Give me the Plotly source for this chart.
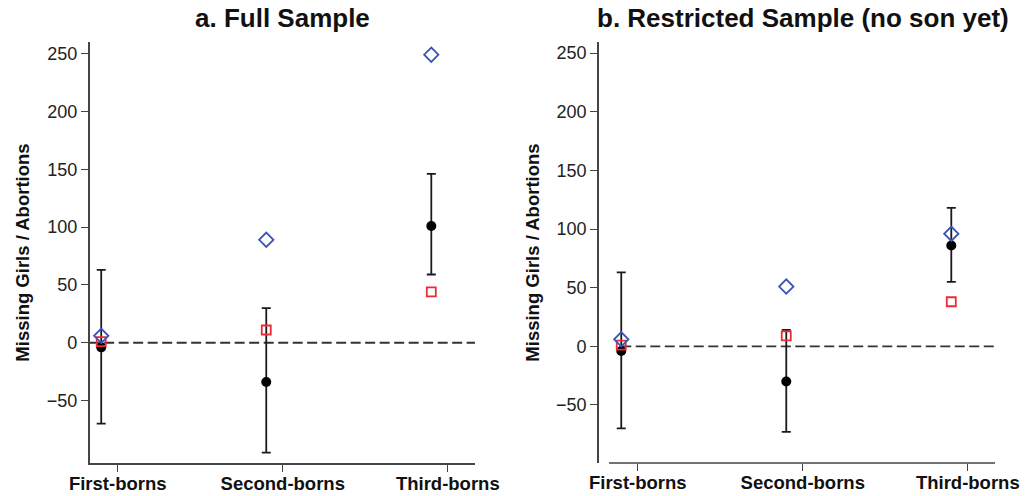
import plotly.graph_objects as go

categories = ["First-borns", "Second-borns", "Third-borns"]
cat_pos = [1, 2, 3]
point_offset = -0.1

# Panel a: Full Sample
a_est = [-4, -34, 101]
a_hi = [63, 30, 146]
a_lo = [-70, -95, 59]
a_diamond = [6, 89, 249]
a_square = [1, 11, 44]

# Panel b: Restricted Sample (no son yet)
b_est = [-4, -30, 86]
b_hi = [63, 14, 118]
b_lo = [-70, -73, 55]
b_diamond = [6, 51, 96]
b_square = [1, 9, 38]

yticks = [-50, 0, 50, 100, 150, 200, 250]

BLUE = "#3a55b4"
RED = "#ee2a36"
DARK = "#1a1a1a"
AX = "#444444"

fig = go.Figure()

panels = [
    dict(est=a_est, hi=a_hi, lo=a_lo, dia=a_diamond, sq=a_square, xa="x", ya="y"),
    dict(est=b_est, hi=b_hi, lo=b_lo, dia=b_diamond, sq=b_square, xa="x2", ya="y2"),
]

for p in panels:
    xs = [c + point_offset for c in cat_pos]
    fig.add_trace(go.Scatter(
        x=xs, y=p["est"], mode="markers", xaxis=p["xa"], yaxis=p["ya"],
        marker=dict(symbol="circle", size=10, color="black"),
        error_y=dict(type="data", symmetric=False,
                     array=[h - e for h, e in zip(p["hi"], p["est"])],
                     arrayminus=[e - l for e, l in zip(p["est"], p["lo"])],
                     color=DARK, thickness=1.8, width=4.5),
        showlegend=False))
    fig.add_trace(go.Scatter(
        x=xs, y=p["sq"], mode="markers", xaxis=p["xa"], yaxis=p["ya"],
        marker=dict(symbol="square-open", size=9, color=RED, line=dict(width=1.8)),
        showlegend=False))
    fig.add_trace(go.Scatter(
        x=xs, y=p["dia"], mode="markers", xaxis=p["xa"], yaxis=p["ya"],
        marker=dict(symbol="diamond-open", size=11, color=BLUE, line=dict(width=1.8)),
        showlegend=False))

font_fam = "Liberation Sans, Arial, sans-serif"

common_y = dict(
    tickvals=yticks, ticktext=[str(v).replace("-", "\u2212") for v in yticks],
    ticks="outside", ticklen=7, tickwidth=1.3, tickcolor=AX,
    showline=True, linecolor=AX, linewidth=1.5, showgrid=False, zeroline=False,
    automargin=False,
    tickfont=dict(family=font_fam, size=18, color="#222"),
    title=dict(text="<b>Missing Girls / Abortions</b>",
               font=dict(family=font_fam, size=18.5, color="#111"), standoff=12),
)
common_x = dict(
    tickvals=cat_pos, ticktext=["<b>%s</b>" % c for c in categories],
    ticks="outside", ticklen=7, tickwidth=1.3, tickcolor=AX,
    showgrid=False, zeroline=False, automargin=False,
    ticklabelstandoff=-4,
    tickfont=dict(family=font_fam, size=18.5, color="#111"),
)

fig.update_layout(
    width=1026, height=496,
    margin=dict(l=0, r=0, t=0, b=0, autoexpand=False),
    paper_bgcolor="white", plot_bgcolor="white",
    xaxis=dict(domain=[0.0874, 0.463], range=[0.83, 3.165], showline=True,
               linecolor=AX, linewidth=1.5, anchor="y", **common_x),
    yaxis=dict(domain=[0.0665, 0.9153], range=[-104, 260], anchor="x", **common_y),
    xaxis2=dict(domain=[0.5838, 0.9698], range=[0.765, 3.165], showline=False,
                anchor="y2", **common_x),
    yaxis2=dict(domain=[0.0665, 0.9153], range=[-99.5, 259.5], anchor="x2", **common_y),
)

# zero reference lines
fig.add_shape(type="line", xref="x", yref="y", x0=0.83, x1=3.165, y0=0, y1=0,
              line=dict(color="#333", width=1.8, dash="10px,4.5px"), layer="below")
fig.add_shape(type="line", xref="x2", yref="y2", x0=0.9, x1=3.165, y0=0, y1=0,
              line=dict(color="#333", width=1.8, dash="10px,4.5px"), layer="below")
# panel b x axis line (detached from y axis)
fig.add_shape(type="line", xref="x2", yref="paper", x0=0.826, x1=3.165,
              y0=0.0665, y1=0.0665, line=dict(color=AX, width=1.5))

fig.add_annotation(text="<b>a. Full Sample</b>", xref="paper", yref="paper",
                   x=282.7 / 1026, y=1 - 18 / 496, showarrow=False,
                   xanchor="center", yanchor="middle",
                   font=dict(family=font_fam, size=26, color="#111"))
fig.add_annotation(text="<b>b. Restricted Sample (no son yet)</b>", xref="paper", yref="paper",
                   x=803 / 1026, y=1 - 18 / 496, showarrow=False,
                   xanchor="center", yanchor="middle",
                   font=dict(family=font_fam, size=26, color="#111"))

fig.write_html("out.html")
